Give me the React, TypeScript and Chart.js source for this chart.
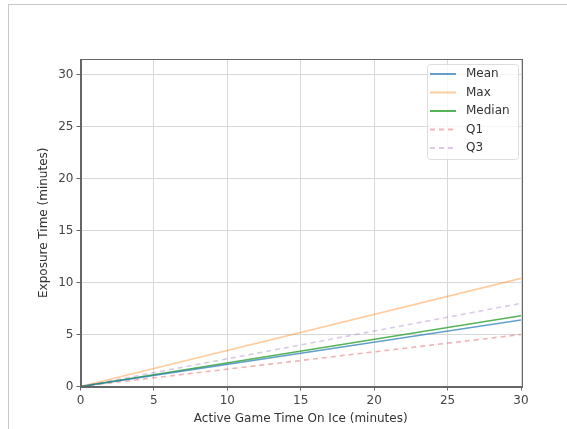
import React, { useEffect, useRef } from "react";
import { Chart, registerables } from "chart.js";

Chart.register(...registerables);

const minutes = [0, 30];
const meanExposure = [0, 6.4];
const maxExposure = [0, 10.4];
const medianExposure = [0, 6.8];
const q1Exposure = [0, 5.0];
const q3Exposure = [0, 8.0];
const seriesNames = ["Mean", "Max", "Median", "Q1", "Q3"];
const xTitle = "Active Game Time On Ice (minutes)";
const yTitle = "Exposure Time (minutes)";

const FONT = "'DejaVu Sans', sans-serif";

const seriesStyles = [
  { color: "rgba(31,119,180,0.7)", dash: [] as number[] },
  { color: "rgba(255,127,14,0.4)", dash: [] as number[] },
  { color: "rgba(44,160,44,0.8)", dash: [] as number[] },
  { color: "rgba(214,39,40,0.35)", dash: [5, 4] },
  { color: "rgba(148,103,189,0.35)", dash: [5, 4] },
];

const spinePlugin = {
  id: "spines",
  afterDatasetsDraw(chart: any) {
    const { ctx, chartArea } = chart;
    ctx.save();
    ctx.strokeStyle = "#666";
    ctx.lineWidth = 1;
    ctx.strokeRect(
      Math.round(chartArea.left) + 0.5,
      Math.round(chartArea.top) + 0.5,
      Math.round(chartArea.right - chartArea.left),
      Math.round(chartArea.bottom - chartArea.top)
    );
    ctx.restore();
  },
};

const legendPlugin = {
  id: "boxLegend",
  afterDraw(chart: any) {
    const { ctx } = chart;
    const x0 = 427, y0 = 64, w = 91, h = 95;
    ctx.save();
    ctx.fillStyle = "rgba(255,255,255,0.8)";
    ctx.strokeStyle = "#dddddd";
    ctx.lineWidth = 1;
    ctx.beginPath();
    (ctx as any).roundRect(x0 + 0.5, y0 + 0.5, w, h, 3);
    ctx.fill();
    ctx.stroke();
    ctx.font = "12px " + FONT;
    ctx.textBaseline = "middle";
    ctx.fillStyle = "#333";
    chart.data.datasets.forEach((ds: any, i: number) => {
      const y = y0 + 10 + i * 18.5;
      ctx.strokeStyle = ds.borderColor;
      ctx.lineWidth = 2;
      ctx.setLineDash(ds.borderDash || []);
      ctx.beginPath();
      ctx.moveTo(430, y);
      ctx.lineTo(456, y);
      ctx.stroke();
      ctx.setLineDash([]);
      ctx.fillText(ds.label, 466, y);
    });
    ctx.restore();
  },
};

export default function App() {
  const ref = useRef<HTMLCanvasElement>(null);
  useEffect(() => {
    const series = [meanExposure, maxExposure, medianExposure, q1Exposure, q3Exposure];
    const chart = new Chart(ref.current!, {
      type: "line",
      data: {
        datasets: series.map((vals, i) => ({
          label: seriesNames[i],
          data: minutes.map((m, j) => ({ x: m, y: vals[j] })),
          borderColor: seriesStyles[i].color,
          borderDash: seriesStyles[i].dash,
          borderWidth: 1.6,
          pointRadius: 0,
          fill: false,
          tension: 0,
        })),
      },
      options: {
        animation: false,
        responsive: false,
        devicePixelRatio: 1,
        layout: { padding: { left: 0, right: 46, top: 59, bottom: 0 } },
        plugins: { legend: { display: false }, tooltip: { enabled: false } },
        scales: {
          x: {
            type: "linear",
            min: 0,
            max: 30,
            afterFit: (s: any) => { s.height = 42.5; },
            ticks: { stepSize: 5, padding: 3, color: "#444", font: { family: FONT, size: 12 } },
            grid: { color: "#d8d8d8", tickColor: "#666", tickLength: 4, lineWidth: 1 },
            border: { color: "#666" },
            title: {
              display: true,
              text: xTitle,
              color: "#333",
              font: { family: FONT, size: 12 },
              padding: { top: 0, bottom: 2.8 },
            },
          },
          y: {
            type: "linear",
            min: 0,
            max: 31.5,
            afterFit: (s: any) => { s.width = 80.5; },
            ticks: { stepSize: 5, includeBounds: false, padding: 3, color: "#444", font: { family: FONT, size: 12 } },
            grid: { color: "#d8d8d8", tickColor: "#666", tickLength: 4, lineWidth: 1 },
            border: { color: "#666" },
            title: {
              display: true,
              text: yTitle,
              color: "#333",
              font: { family: FONT, size: 12 },
              padding: { top: 37, bottom: 0 },
            },
          },
        },
      },
      plugins: [spinePlugin, legendPlugin],
    } as any);
    return () => chart.destroy();
  }, []);
  return (
    <div style={{ position: "fixed", left: 0, top: 0, width: 567, height: 429, background: "#fff", overflow: "hidden" }}>
      <canvas ref={ref} width={567} height={429} style={{ position: "absolute", left: 0, top: 0 }} />
      <div
        style={{
          position: "absolute",
          left: 8,
          top: 4,
          width: 600,
          height: 500,
          borderLeft: "1px solid #c8c8c8",
          borderTop: "1px solid #c8c8c8",
          pointerEvents: "none",
        }}
      />
    </div>
  );
}
